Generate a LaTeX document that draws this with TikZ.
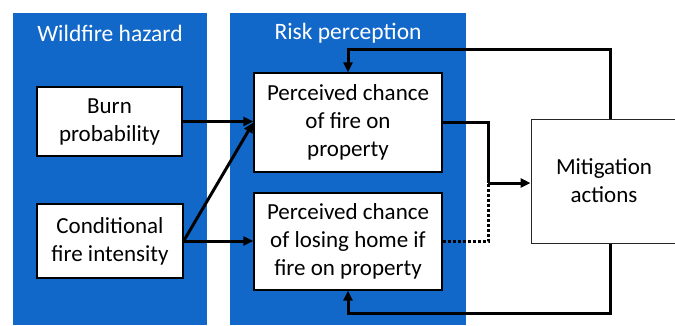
\documentclass[tikz,border=0pt]{standalone}
\usepackage{fontspec}
\setmainfont{Carlito}
\usetikzlibrary{arrows.meta}
\definecolor{panelblue}{RGB}{18,104,200}
\begin{document}
\begin{tikzpicture}[x=1pt,y=-1pt,
  panel/.style={fill=panelblue,draw=none},
  title/.style={text=white,font=\fontsize{23.5}{26}\selectfont,anchor=center},
  box/.style={draw=black,line width=1.3pt,fill=white,align=center,
    font=\fontsize{23}{28}\selectfont,inner sep=0pt},
  flow/.style={line width=3pt,-{Triangle[length=10pt,width=9pt]}},
  dotflow/.style={line width=3pt,dotted},
  plain/.style={line width=3pt}]
\useasboundingbox (0,0) rectangle (675,325);
\fill[white] (0,0) rectangle (675,325);
\path[panel] (13,13) rectangle (207,325);
\path[panel] (230,13) rectangle (466,325);
\node[title] (t1) at (110,33) {Wildfire hazard};
\node[title] (t2) at (348,33) {Risk perception};
\node[box,minimum width=145pt,minimum height=69pt] (burn) at (109.5,121.5) {Burn\\probability};
\node[box,minimum width=146pt,minimum height=74pt] (cond) at (110,241) {Conditional\\fire intensity};
\node[box,minimum width=188pt,minimum height=99pt] (p1) at (348,122.5) {Perceived chance\\of fire on\\property};
\node[box,minimum width=188pt,minimum height=97pt] (p2) at (348,241.5) {Perceived chance\\of losing home if\\fire on property};
\node[box,line width=1pt,draw=black!85,minimum width=146pt,minimum height=124pt] (mit) at (604,181) {Mitigation\\actions};
\coordinate (j) at (488,183);
\coordinate (tc) at (610,49);
\coordinate (bc) at (610,313);
\draw[flow] (burn.east) -- (burn.east -| p1.west);
\draw[flow] (cond.east) -- (p1.west);
\draw[flow] (cond.east) -- (cond.east -| p2.west);
\draw[plain] (p1.east) -- (p1.east -| j) -- (j);
\draw[flow] (j) -- (j -| mit.west);
\draw[dotflow] (p2.east) -- (p2.east -| j) -- (j);
\draw[flow] (mit.north -| tc) -- (tc) -- (tc -| p1.north) -- (p1.north);
\draw[flow] (mit.south -| bc) -- (bc) -- (bc -| p2.south) -- (p2.south);
\end{tikzpicture}
\end{document}
